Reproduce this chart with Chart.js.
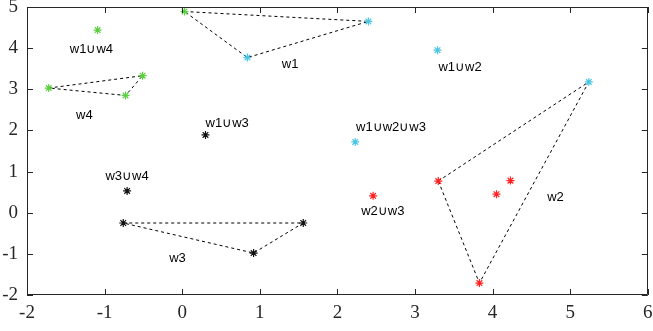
<!DOCTYPE html>
<html>
<head>
<meta charset="utf-8">
<script src="https://cdn.jsdelivr.net/npm/chart.js@4/dist/chart.umd.min.js"></script>
<style>
html,body{margin:0;padding:0;background:#fff;}
#wrap{width:653px;height:331px;position:relative;}
</style>
</head>
<body>
<div id="wrap"><canvas id="c" width="653" height="331"></canvas></div>
<script>
// ---- data ----
const greenX = [-1.09, -1.72, -0.51, -0.73, 0.03];
const greenY = [4.44, 3.03, 3.33, 2.85, 4.89];
const cyanX = [0.84, 2.40, 3.29, 5.24, 2.23];
const cyanY = [3.77, 4.65, 3.95, 3.18, 1.72];
const blackX = [0.30, -0.71, -0.76, 0.92, 1.56];
const blackY = [1.89, 0.53, -0.25, -0.98, -0.25];
const redX = [2.46, 3.30, 4.05, 4.23, 3.83];
const redY = [0.41, 0.77, 0.45, 0.78, -1.71];

const triW1X = [0.03, 2.40, 0.84, 0.03];
const triW1Y = [4.89, 4.65, 3.77, 4.89];
const triW4X = [-1.72, -0.51, -0.73, -1.72];
const triW4Y = [3.03, 3.33, 2.85, 3.03];
const triW3X = [-0.76, 1.56, 0.92, -0.76];
const triW3Y = [-0.25, -0.25, -0.98, -0.25];
const triW2X = [3.30, 5.24, 3.83, 3.30];
const triW2Y = [0.77, 3.18, -1.71, 0.77];

const labelTexts = ['w1\u222Aw4', 'w1', 'w4', 'w1\u222Aw3', 'w1\u222Aw2', 'w1\u222Aw2\u222Aw3', 'w3\u222Aw4', 'w3', 'w2\u222Aw3', 'w2'];
const labelX = [-1.17, 1.39, -1.26, 0.58, 3.58, 2.69, -0.71, -0.06, 2.585, 4.81];
const labelY = [3.98, 3.61, 2.37, 2.16, 3.52, 2.08, 0.87, -1.10, 0.02, 0.38];

const xTicks = [-2, -1, 0, 1, 2, 3, 4, 5, 6];
const yTicks = [-2, -1, 0, 1, 2, 3, 4, 5];

const pts = (xs, ys) => xs.map((x, i) => ({x: x, y: ys[i]}));

const axisColor = '#262626';

function ptSet(xs, ys, color) {
  return {
    data: pts(xs, ys), showLine: false, pointStyle: 'star',
    pointRadius: 4, pointBorderColor: color, pointBackgroundColor: color,
    pointBorderWidth: 1.2, order: 1
  };
}
function triSet(xs, ys) {
  return {
    data: pts(xs, ys), showLine: true, borderColor: '#000', borderWidth: 1,
    borderDash: [3, 3], pointRadius: 1, pointBackgroundColor: '#000',
    pointBorderColor: '#000', fill: false, tension: 0, order: 2
  };
}

const framePlugin = {
  id: 'frame',
  afterDatasetsDraw(chart) {
    const {ctx, chartArea: a, scales} = chart;
    ctx.save();
    ctx.strokeStyle = axisColor;
    ctx.lineWidth = 1;
    ctx.beginPath();
    ctx.rect(Math.round(a.left) + 0.5, Math.round(a.top) + 0.5,
             Math.round(a.right - a.left) - 1, Math.round(a.bottom - a.top) - 1);
    ctx.stroke();
    const tl = 6;
    ctx.beginPath();
    xTicks.forEach(v => {
      const px = Math.round(scales.x.getPixelForValue(v)) + 0.5;
      ctx.moveTo(px, a.bottom); ctx.lineTo(px, a.bottom - tl);
      ctx.moveTo(px, a.top); ctx.lineTo(px, a.top + tl);
    });
    yTicks.forEach(v => {
      const py = Math.round(scales.y.getPixelForValue(v)) + 0.5;
      ctx.moveTo(a.left, py); ctx.lineTo(a.left + tl, py);
      ctx.moveTo(a.right, py); ctx.lineTo(a.right - tl, py);
    });
    ctx.stroke();
    // text labels
    ctx.fillStyle = '#000';
    ctx.font = '13px "Liberation Sans", Arial, sans-serif';
    ctx.textAlign = 'center';
    ctx.textBaseline = 'middle';
    labelTexts.forEach((t, i) => {
      ctx.fillText(t, scales.x.getPixelForValue(labelX[i]), scales.y.getPixelForValue(labelY[i]));
    });
    ctx.restore();
  }
};

new Chart(document.getElementById('c'), {
  type: 'scatter',
  data: {
    datasets: [
      triSet(triW1X, triW1Y), triSet(triW4X, triW4Y), triSet(triW3X, triW3Y), triSet(triW2X, triW2Y),
      ptSet(greenX, greenY, '#5ccf43'),
      ptSet(cyanX, cyanY, '#4cc6e4'),
      ptSet(blackX, blackY, '#111111'),
      ptSet(redX, redY, '#ff2222')
    ]
  },
  options: {
    responsive: false, animation: false, devicePixelRatio: 1,
    layout: {padding: {top: 7, right: 4, left: 0, bottom: 0}},
    plugins: {legend: {display: false}, tooltip: {enabled: false}},
    scales: {
      x: {
        type: 'linear', min: -2, max: 6,
        afterBuildTicks: s => { s.ticks = xTicks.map(v => ({value: v})); },
        afterFit: s => { s.height = 36; s.paddingLeft = 0; s.paddingRight = 0; },
        grid: {display: false, drawTicks: false},
        border: {display: false},
        ticks: {color: axisColor, padding: 7, font: {family: '"Liberation Serif", "Times New Roman", serif', size: 19}}
      },
      y: {
        type: 'linear', min: -2, max: 5,
        afterBuildTicks: s => { s.ticks = yTicks.map(v => ({value: v})); },
        afterFit: s => { s.width = 27; s.paddingTop = 0; s.paddingBottom = 0; },
        grid: {display: false, drawTicks: false},
        border: {display: false},
        ticks: {color: axisColor, padding: 9, font: {family: '"Liberation Serif", "Times New Roman", serif', size: 19}}
      }
    }
  },
  plugins: [framePlugin]
});
</script>
</body>
</html>
